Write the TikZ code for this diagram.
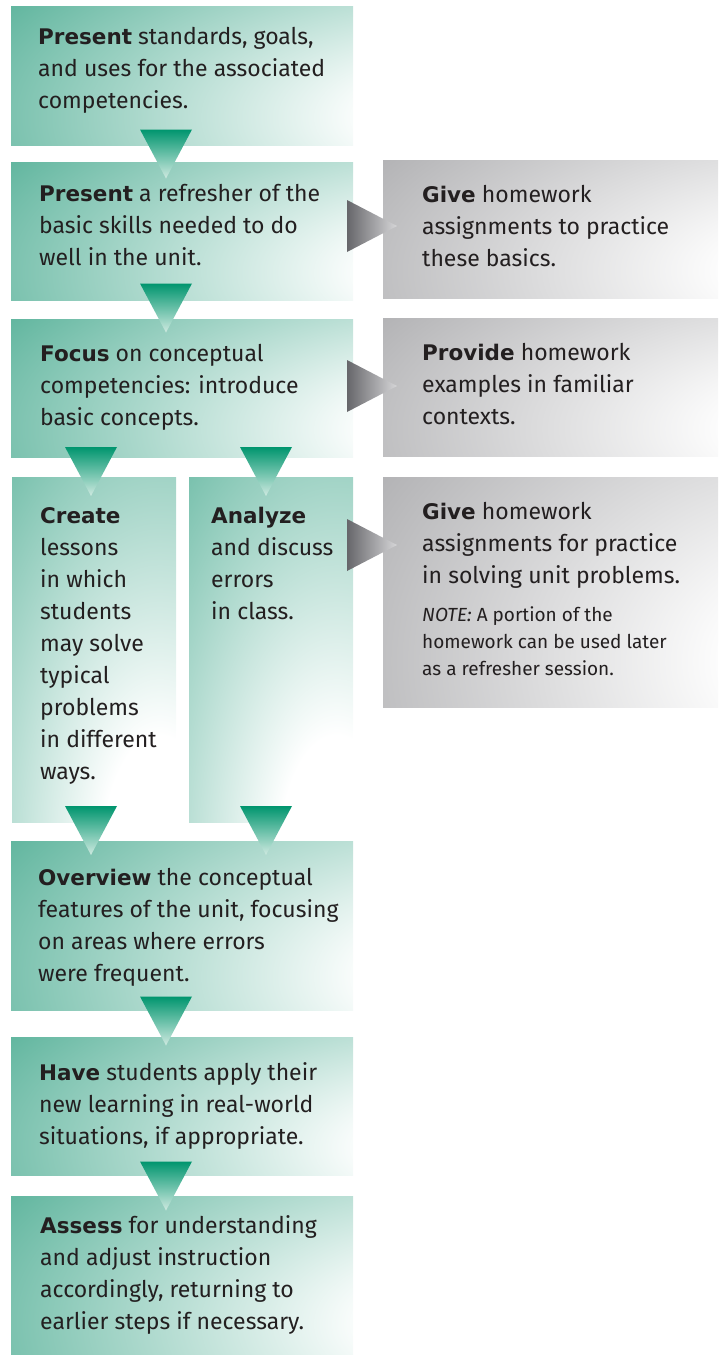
\documentclass[tikz,border=0pt]{standalone}
\usepackage{fontspec}
\setmainfont{Fira Sans}
\newfontfamily\kwfont{DejaVu Sans}
\usetikzlibrary{calc}

\definecolor{tealdark}{HTML}{00956E}
\definecolor{tealtip}{HTML}{D0EAE1}
\definecolor{graydark}{HTML}{66666A}
\definecolor{graytip}{HTML}{D6D6D8}
\definecolor{ink}{HTML}{231F20}

\newcommand{\kw}[1]{{\kwfont\bfseries\fontsize{21.5}{32}\selectfont #1}}

% box colour fading to white around a glow point
% #1 name, #2 #3 glow point (bp), #4 spread, #5 #6 #7 = 1 - rgb of the box colour
\newcommand{\declareglow}[7]{%
  \pgfdeclarefunctionalshading{#1}{\pgfpoint{-50bp}{-50bp}}{\pgfpoint{50bp}{50bp}}{}{
    #3 sub dup mul exch #2 sub dup mul add sqrt
    17.5 sub #4 div
    dup 0 lt {pop 0} if
    dup 1 gt {pop 1} if
    dup dup
    #5 mul 1 exch sub
    3 1 roll
    #6 mul 1 exch sub
    exch #7 mul 1 exch sub
  }}
\declareglow{tealglow}{45}{-15}{66}{0.643}{0.298}{0.392}   % 5BB39B
\declareglow{tallglow}{20}{-30}{66}{0.643}{0.298}{0.392}
\declareglow{grayglow}{45}{-15}{80}{0.376}{0.376}{0.365}   % A0A0A3

\begin{document}
\begin{tikzpicture}[x=1pt, y=-1pt,
  box/.style={anchor=north west, inner sep=0pt, outer sep=0pt},
  tealbox/.style={box, shade, shading=tealglow},
  tallbox/.style={box, shade, shading=tallglow},
  graybox/.style={box, shade, shading=grayglow},
  txt/.style={anchor=north west, inner sep=0pt, align=left, text=ink,
    font=\fontsize{23}{32}\selectfont, execute at begin node={\rule{0pt}{18pt}}},
  notetxt/.style={anchor=north west, inner sep=0pt, align=left, text=ink,
    font=\fontsize{19}{27}\selectfont, execute at begin node={\rule{0pt}{15pt}}},
  downtri/.pic={\shade[top color=tealdark, bottom color=tealtip]
    (-26,-24) -- (26,-24) -- (0,25) -- cycle;},
  righttri/.pic={\shade[left color=graydark, right color=graytip]
    (-25,-26) -- (25,0) -- (-25,26) -- cycle;}]
\useasboundingbox (0,0) rectangle (718,1355);

% main column
\node[tealbox, minimum width=342pt, minimum height=139pt] (present) at (11,6) {};
\node[tealbox, minimum width=342pt, minimum height=138pt] (refresher) at (11,162) {};
\node[tealbox, minimum width=342pt, minimum height=138pt] (focus) at (11,319) {};
\node[tallbox, minimum width=164pt, minimum height=345pt] (create) at (12,477) {};
\node[tallbox, minimum width=164pt, minimum height=345pt] (analyze) at (189,477) {};
\node[tealbox, minimum width=342pt, minimum height=169pt] (overview) at (11,841) {};
\node[tealbox, minimum width=342pt, minimum height=138pt] (apply) at (11,1037) {};
\node[tealbox, minimum width=342pt, minimum height=159pt] (assess) at (11,1196) {};

% homework column
\node[graybox, minimum width=335pt, minimum height=138pt] (drill) at (383,160) {};
\node[graybox, minimum width=335pt, minimum height=138pt] (examples) at (383,318) {};
\node[graybox, minimum width=335pt, minimum height=230pt] (practice) at (383,477) {};

% texts
\node[txt] (present text) at ($(present.north west)+(27,21)$)
  {\kw{Present} standards, goals,\\ and uses for the associated\\ competencies.};
\node[txt] (refresher text) at ($(refresher.north west)+(28,22)$)
  {\kw{Present} a refresher of the\\ basic skills needed to do\\ well in the unit.};
\node[txt] (focus text) at ($(focus.north west)+(29,25)$)
  {\kw{Focus} on conceptual\\ competencies: introduce\\ basic concepts.};
\node[txt] (create text) at ($(create.north west)+(28,30)$)
  {\kw{Create}\\ lessons\\ in which\\ students\\ may solve\\ typical\\ problems\\ in different\\ ways.};
\node[txt] (analyze text) at ($(analyze.north west)+(22,30)$)
  {\kw{Analyze}\\ and discuss\\ errors\\ in class.};
\node[txt] (overview text) at ($(overview.north west)+(27,27)$)
  {\kw{Overview} the conceptual\\ features of the unit, focusing\\ on areas where errors\\ were frequent.};
\node[txt] (apply text) at ($(apply.north west)+(28,25)$)
  {\kw{Have} students apply their\\ new learning in real-world\\ situations, if appropriate.};
\node[txt] (assess text) at ($(assess.north west)+(29,19)$)
  {\kw{Assess} for understanding\\ and adjust instruction\\ accordingly, returning to\\ earlier steps if necessary.};
\node[txt] (drill text) at ($(drill.north west)+(39,25)$)
  {\kw{Give} homework\\ assignments to practice\\ these basics.};
\node[txt] (examples text) at ($(examples.north west)+(39,25)$)
  {\kw{Provide} homework\\ examples in familiar\\ contexts.};
\node[txt] (practice text) at ($(practice.north west)+(39,25)$)
  {\kw{Give} homework\\ assignments for practice\\ in solving unit problems.};
\node[notetxt] (practice note) at ($(practice.north west)+(39,129)$)
  {\textit{NOTE:} A portion of the\\ homework can be used later\\ as a refresher session.};

% down arrows between the steps
\pic at ($(present.south)!.5!(refresher.north)+(-16,0)$) {downtri};
\pic at ($(refresher.south)!.5!(focus.north)+(-16,-2)$) {downtri};
\pic at ($(create.north)+(-3,-6)$) {downtri};
\pic at ($(analyze.north)+(-5,-6)$) {downtri};
\pic at ($(create.south)+(-3,8)$) {downtri};
\pic at ($(analyze.south)+(-5,8)$) {downtri};
\pic at ($(overview.south)!.5!(apply.north)+(-16,-3)$) {downtri};
\pic at ($(apply.south)!.5!(assess.north)+(-16,0)$) {downtri};

% side arrows to the homework
\pic at ($(drill.north west)+(-11,66)$) {righttri};
\pic at ($(examples.north west)+(-11,68)$) {righttri};
\pic at ($(practice.north west)+(-11,68)$) {righttri};
\end{tikzpicture}
\end{document}
